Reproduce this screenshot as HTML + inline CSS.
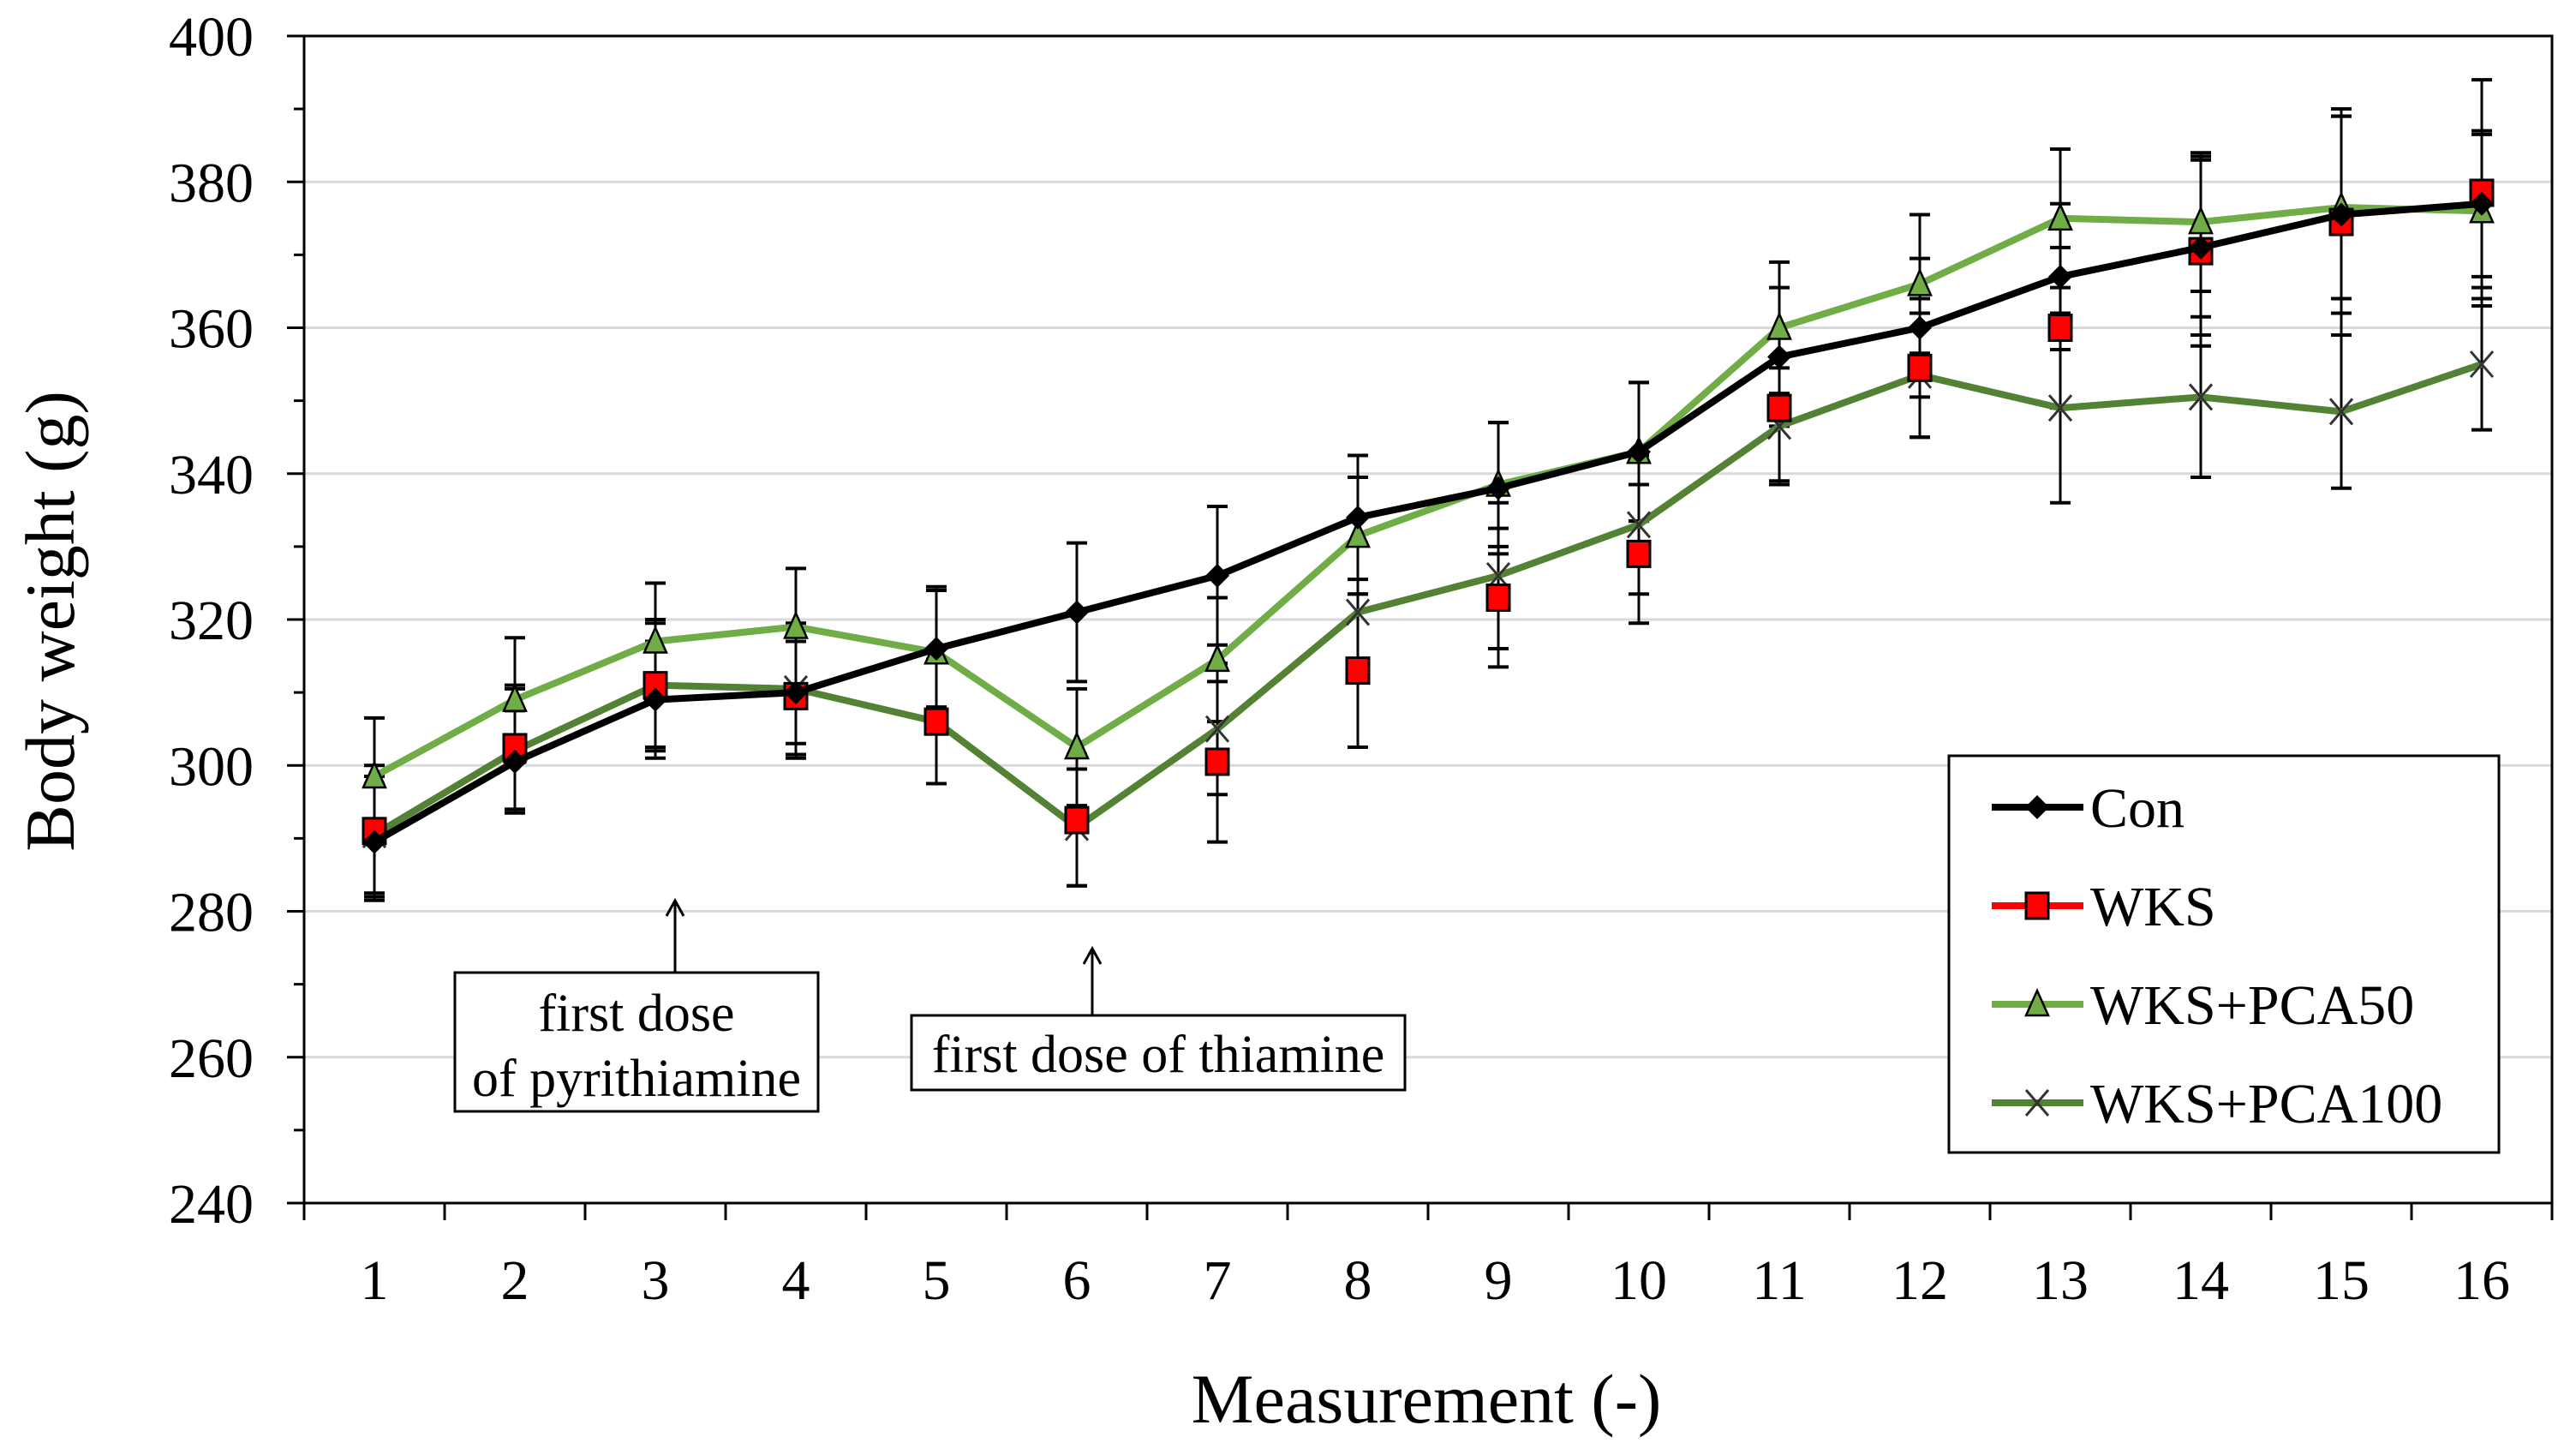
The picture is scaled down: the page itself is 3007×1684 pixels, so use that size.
<!DOCTYPE html>
<html><head><meta charset="utf-8"><style>
html,body{margin:0;padding:0;background:#fff;width:3007px;height:1684px;overflow:hidden}
svg text{font-family:"Liberation Serif",serif;fill:#000}
</style></head><body>
<svg id="chart" width="3007" height="1684" viewBox="0 0 3007 1684" xmlns="http://www.w3.org/2000/svg"></svg>
<script>
const categories=[1,2,3,4,5,6,7,8,9,10,11,12,13,14,15,16];
const yTicks=[240,260,280,300,320,340,360,380,400];
const conVals=[289.5,300.5,309,310,316,321,326,334,338,343,356,360,367,371,375.5,377];
const conErr=[8,7,8,7,8,9.5,9.5,8.5,9,9.5,9.5,9.5,10,12,13.5,10];
const wksVals=[291,302.5,311,309.5,306,292.5,300.5,313,323,329,349,354.5,360,370.5,374.5,378.5];
const wksErr=[9,8.5,8.5,8.5,8.5,9,11,10.5,9.5,9.5,10,9.5,11,13,15.5,15.5];
const p50Vals=[298.5,309,317,319,315.5,302.5,314.5,331.5,338.5,343,360,366,375,374.5,376.5,376];
const p50Err=[8,8.5,8,8,9,8,8.5,8,8.5,9.5,9,9.5,9.5,9.5,12.5,10.5];
const p100Vals=[290.5,302,311,310.5,306,291.5,305,321,326,333,346.5,353.5,349,350.5,348.5,355];
const p100Err=[8,8.5,9,9,8.5,8,9,9.5,10,9.5,8,8.5,13,11,10.5,9];

const NS="http://www.w3.org/2000/svg";
const svg=document.getElementById('chart');
const L=355,R=2979,T=42,B=1404,Y0=240,Y1=400;
const band=(R-L)/categories.length;
const xS=i=>L+(i+0.5)*band;
const yS=v=>B-(v-Y0)/(Y1-Y0)*(B-T);
function el(tag,attrs,parent){const e=document.createElementNS(NS,tag);for(const k in attrs)e.setAttribute(k,attrs[k]);(parent||svg).appendChild(e);return e;}

yTicks.forEach(t=>{if(t===Y0)return;
 const g=el('line',{x1:L,x2:R,y1:yS(t),y2:yS(t),stroke:'#d9d9d9','stroke-width':3});
 
 });
const fr=el('rect',{x:L,y:T,width:R-L,height:B-T,fill:'none',stroke:'#000','stroke-width':3});


for(let v=Y0;v<=Y1;v+=10){const major=v%20===0;
 el('line',{x1:major?L-20:L-12,x2:L,y1:yS(v),y2:yS(v),stroke:'#000','stroke-width':3});}
yTicks.forEach(t=>{const tx=el('text',{x:296,y:yS(t)+23,'text-anchor':'end','font-size':66});tx.textContent=t;
 
 });
for(let i=0;i<=categories.length;i++){const x=L+i*band;el('line',{x1:x,x2:x,y1:B,y2:B+20,stroke:'#000','stroke-width':3});}
categories.forEach((c,i)=>{const tx=el('text',{x:xS(i),y:1516,'text-anchor':'middle','font-size':66});tx.textContent=c;
 
 });
const xt=el('text',{x:1665,y:1660,'text-anchor':'middle','font-size':82});xt.textContent='Measurement (-)';


const yt=el('text',{x:0,y:0,'text-anchor':'middle','font-size':82,transform:'translate(86,725) rotate(-90)'});yt.textContent='Body weight (g)';



const series=[
 {name:'con',vals:conVals,err:conErr,color:'#000',marker:'diamond',label:'Con'},
 {name:'wks',vals:wksVals,err:wksErr,color:'#ff0000',marker:'square',label:'WKS'},
 {name:'wks-pca50',vals:p50Vals,err:p50Err,color:'#70ad47',marker:'triangle',label:'WKS+PCA50'},
 {name:'wks-pca100',vals:p100Vals,err:p100Err,color:'#548235',marker:'x',label:'WKS+PCA100'}];

function marker(type,x,y,g){
 if(type==='diamond')return el('path',{d:`M${x} ${y-14}L${x+14} ${y}L${x} ${y+14}L${x-14} ${y}Z`,fill:'#000'},g);
 if(type==='square')return el('rect',{x:x-13,y:y-15,width:26,height:30,fill:'#ff0000',stroke:'#000','stroke-width':3},g);
 if(type==='triangle')return el('path',{d:`M${x} ${y-16}L${x+13} ${y+13}L${x-13} ${y+13}Z`,fill:'#70ad47',stroke:'#000','stroke-width':2.5},g);
 const gg=el('g',{},g);
 el('line',{x1:x-13,y1:y-15,x2:x+13,y2:y+15,stroke:'#333','stroke-width':3},gg);
 el('line',{x1:x+13,y1:y-15,x2:x-13,y2:y+15,stroke:'#333','stroke-width':3},gg);return gg;}

series.forEach(s=>{const g=el('g',{});
 
 
 s.vals.forEach((v,i)=>{const x=xS(i);
  el('line',{x1:x,x2:x,y1:yS(v-s.err[i]),y2:yS(v+s.err[i]),stroke:'#000','stroke-width':3},g);
  [v-s.err[i],v+s.err[i]].forEach(e=>el('line',{x1:x-12,x2:x+12,y1:yS(e),y2:yS(e),stroke:'#000','stroke-width':4},g));});});
series.slice().reverse().forEach(s=>{const g=el('g',{});
 
 
 if(s.name!=='wks'){
  const pl=el('polyline',{points:s.vals.map((v,i)=>xS(i)+','+yS(v)).join(' '),fill:'none',stroke:s.color,'stroke-width':8,'stroke-linejoin':'round'},g);
  
  }
 s.vals.forEach((v,i)=>{const m=marker(s.marker,xS(i),yS(v),g);
  
  });});

const lg=el('g',{});


el('rect',{x:2275,y:882,width:642,height:463,fill:'#fff',stroke:'#000','stroke-width':3},lg);
series.forEach((s,k)=>{const y=942+k*115;const e=el('g',{},lg);
 
 
 el('line',{x1:2325,x2:2432,y1:y,y2:y,stroke:s.color,'stroke-width':8},e);
 marker(s.marker,2378,y,e);
 const t=el('text',{x:2440,y:y+23,'font-size':66},e);t.textContent=s.label;});

function ann(name,bx,by,bw,bh,ax,ay,lines){const g=el('g',{});
 
 
 el('rect',{x:bx,y:by,width:bw,height:bh,fill:'#fff',stroke:'#000','stroke-width':3},g);
 el('line',{x1:ax,x2:ax,y1:by,y2:ay,stroke:'#000','stroke-width':3},g);
 el('path',{d:`M${ax-10} ${ay+18}L${ax} ${ay}L${ax+10} ${ay+18}`,fill:'none',stroke:'#000','stroke-width':3},g);
 lines.forEach((l,i)=>{const t=el('text',{x:bx+bw/2,y:by+(lines.length>1?68+i*76:66),'text-anchor':'middle','font-size':62},g);t.textContent=l;});}
ann('annotation-pyrithiamine',531,1135,424,162,788,1051,['first dose','of pyrithiamine']);
ann('annotation-thiamine',1064,1185,576,87,1275,1107,['first dose of thiamine']);
</script>
</body></html>
